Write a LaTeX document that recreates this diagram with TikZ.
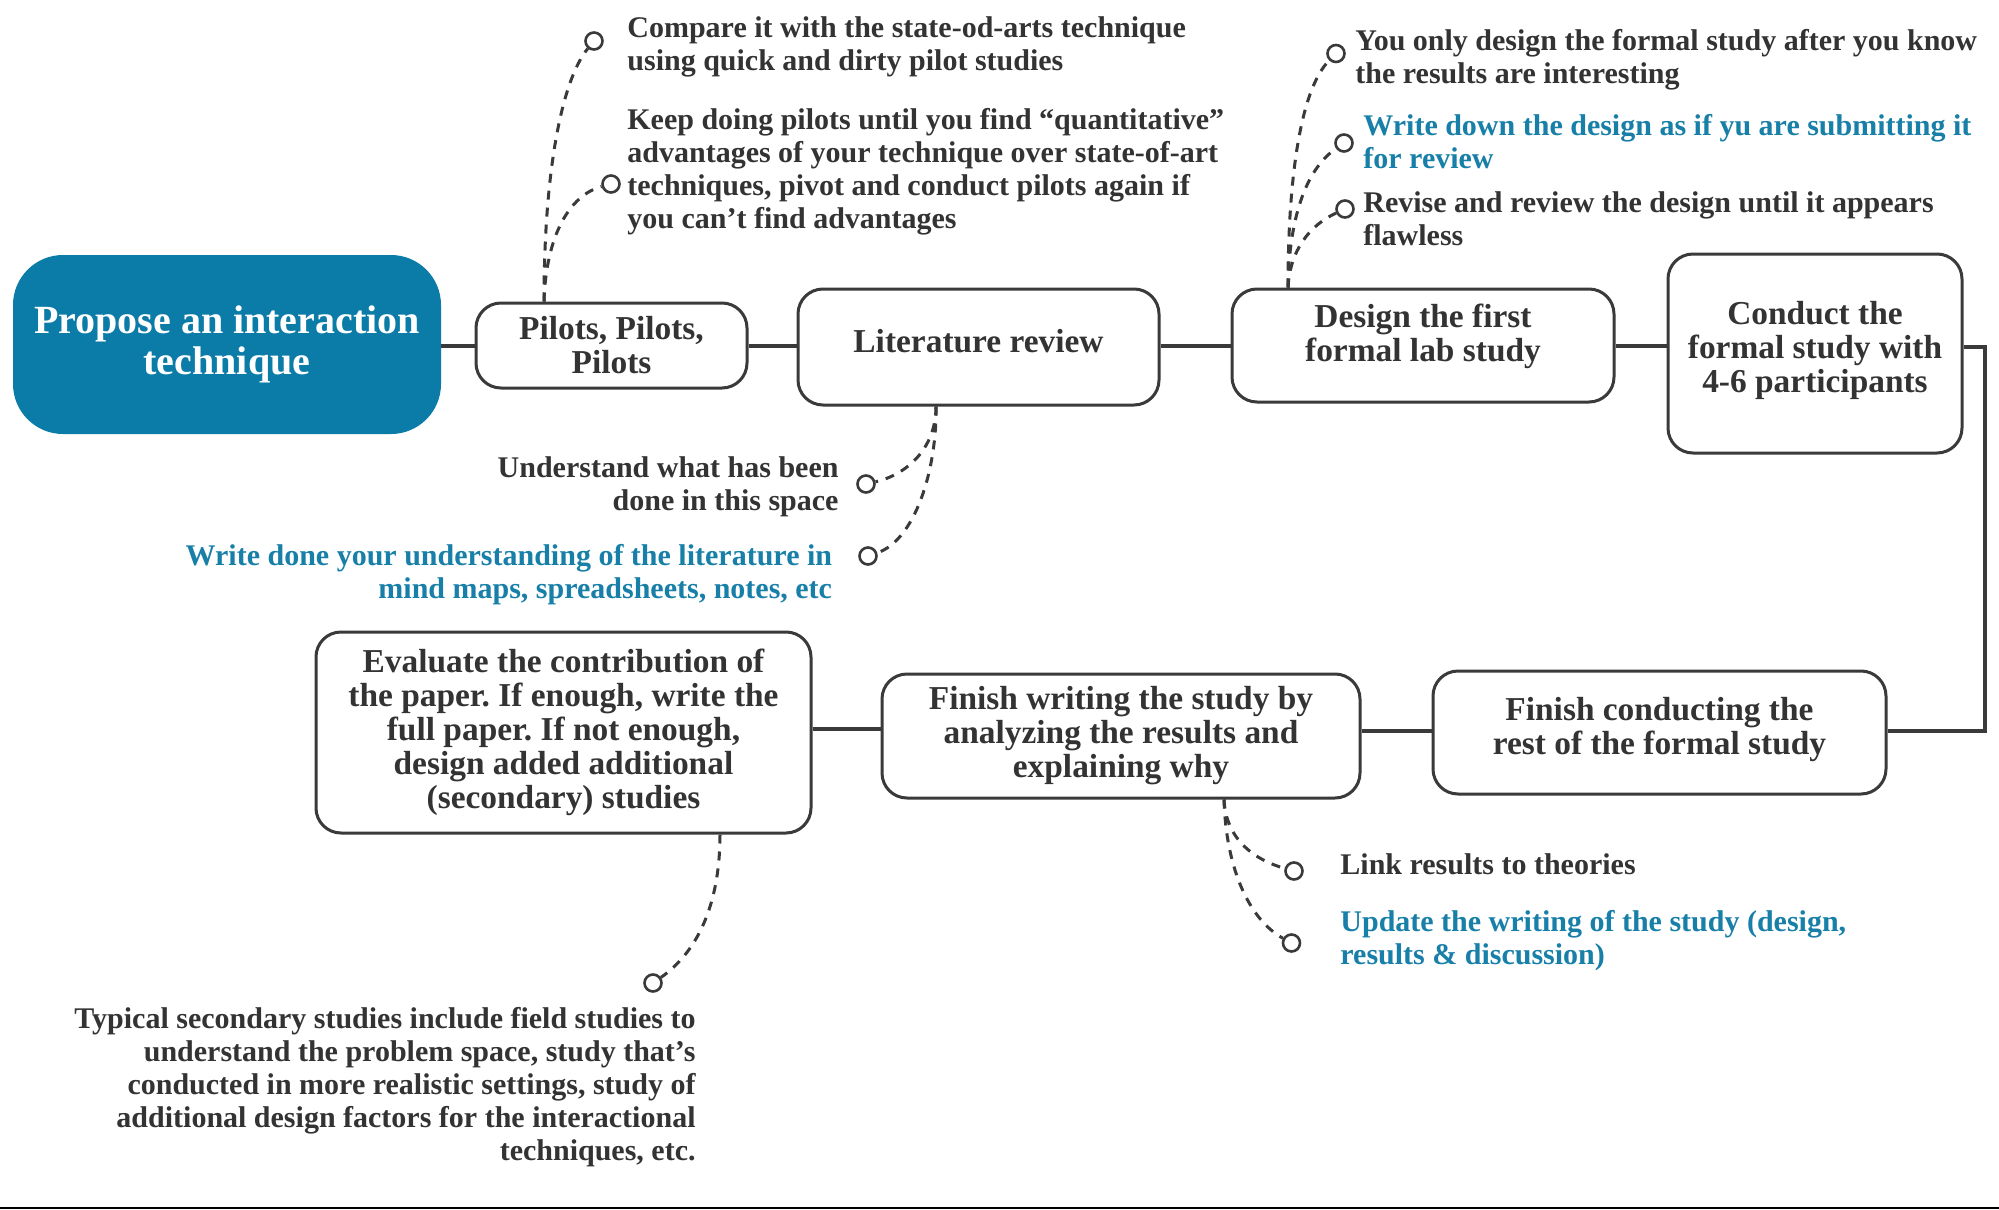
\documentclass[tikz,border=0pt]{standalone}
\usepackage{fontspec}
\setmainfont{Liberation Serif}
\usetikzlibrary{calc}
\frenchspacing
\definecolor{ink}{RGB}{51,51,51}
\definecolor{pblue}{RGB}{11,123,168}
\definecolor{nblue}{RGB}{24,128,168}
\definecolor{edgec}{RGB}{58,58,58}
\begin{document}
\begin{tikzpicture}[x=0.5pt,y=-0.5pt,
  box/.style={draw=edgec, line width=1.5pt, rounded corners=12.5pt, fill=white, align=center, text=ink, font=\fontsize{16.7}{17}\selectfont\bfseries\frenchspacing, inner sep=0pt},
  boxtext/.style={align=center, text=ink, font=\fontsize{16.7}{17}\selectfont\bfseries\frenchspacing, inner sep=0pt},
  note/.style={text=ink, font=\fontsize{15}{16.5}\selectfont\bfseries\frenchspacing, inner sep=0pt},
  bnote/.style={note, text=nblue},
  conn/.style={draw=edgec, line width=1.6pt},
  dashc/.style={draw=edgec, line width=1.5pt, dash pattern=on 4.5pt off 4pt},
  endcirc/.style={circle, draw=edgec, line width=1.3pt, minimum size=8.5pt, inner sep=0pt, fill=white}
]
\useasboundingbox (0,0) rectangle (1999,1210);
\fill[white] (0,0) rectangle (1999,1210);

% main boxes
\node[fill=pblue, rounded corners=25pt, minimum width=214pt, minimum height=89.5pt, align=center, text=white, font=\fontsize{20}{20.5}\selectfont\bfseries, inner sep=0pt] (propose) at (227,344.5) {Propose an interaction\\technique};
\node[box, minimum width=135.5pt, minimum height=42.5pt] (pilots) at (611.5,345.5) {Pilots, Pilots,\\Pilots};
\node[box, minimum width=180.5pt, minimum height=58pt] (lit) at (978.5,347) {};
\node[boxtext] (littext) at (978.5,341.5) {Literature review};
\node[box, minimum width=191pt, minimum height=56.5pt] (design) at (1423,345.5) {};
\node[boxtext] (designtext) at (1423,336.5) {Design the first\\formal lab study};
\node[box, minimum width=147pt, minimum height=99.5pt] (conduct) at (1815,353.5) {};
\node[boxtext] (conducttext) at (1815,350.5) {Conduct the\\formal study with\\4-6 participants};
\node[box, minimum width=226.5pt, minimum height=61.5pt] (fconduct) at (1659.5,732.5) {};
\node[boxtext] (fconducttext) at (1659.5,730) {Finish conducting the\\rest of the formal study};
\node[box, minimum width=239pt, minimum height=62pt] (fwriting) at (1121,736) {Finish writing the study by\\analyzing the results and\\explaining why};
\node[box, minimum width=247.5pt, minimum height=100.5pt] (evaluate) at (563.5,732.5) {Evaluate the contribution of\\the paper. If enough, write the\\full paper. If not enough,\\design added additional\\(secondary) studies};

% main connectors
\draw[conn] (propose.east |- 0,346) -- (pilots.west |- 0,346);
\draw[conn] (pilots.east |- 0,346) -- (lit.west |- 0,346);
\draw[conn] (lit.east |- 0,346) -- (design.west |- 0,346);
\draw[conn] (design.east |- 0,346) -- (conduct.west |- 0,346);
\draw[conn] (conduct.east |- 0,347) -- (1985,347) |- (fconduct.east |- 0,731);
\draw[conn] (fconduct.west |- 0,731) -- (fwriting.east |- 0,731);
\draw[conn] (fwriting.west |- 0,729) -- (evaluate.east |- 0,729);

% end circles
\node[endcirc] (c1) at (594,41) {};
\node[endcirc] (c2) at (611,184) {};
\node[endcirc] (c3) at (866,484) {};
\node[endcirc] (c4) at (868,556) {};
\node[endcirc] (c5) at (1336,53.5) {};
\node[endcirc] (c6) at (1344,143) {};
\node[endcirc] (c7) at (1345,209) {};
\node[endcirc] (c8) at (1294,871) {};
\node[endcirc] (c9) at (1291.5,943) {};
\node[endcirc] (c10) at (653,983) {};

% dashed connectors
\draw[dashc] (pilots.north -| 544,0) .. controls (544,170) and (562,80) .. (c1);
\draw[dashc] (pilots.north -| 544,0) .. controls (546,235) and (570,195) .. (c2);
\draw[dashc] (lit.south -| 936,0) .. controls (936,450) and (905,475) .. (c3);
\draw[dashc] (lit.south -| 936,0) .. controls (937,470) and (915,540) .. (c4);
\draw[dashc] (design.north -| 1288,0) .. controls (1288,180) and (1300,90) .. (c5);
\draw[dashc] (design.north -| 1288,0) .. controls (1289,220) and (1305,170) .. (c6);
\draw[dashc] (design.north -| 1288,0) .. controls (1290,250) and (1310,225) .. (c7);
\draw[dashc] (fwriting.south -| 1224,0) .. controls (1226,840) and (1255,860) .. (c8);
\draw[dashc] (fwriting.south -| 1224,0) .. controls (1226,870) and (1250,920) .. (c9);
\draw[dashc] (evaluate.south -| 720,0) .. controls (720,900) and (700,950) .. (c10);

% notes
\node[note, anchor=west, align=left] (n1) at (627,47) {Compare it with the state-od-arts technique\\using quick and dirty pilot studies};
\node[note, anchor=west, align=left] (n2) at (627,172) {Keep doing pilots until you find “quantitative”\\advantages of your technique over state-of-art\\techniques, pivot and conduct pilots again if\\you can’t find advantages};
\node[note, anchor=east, align=right] (n3) at (839,487) {Understand what has been\\done in this space};
\node[bnote, anchor=east, align=right] (n4) at (832.5,575) {Write done your understanding of the literature in\\mind maps, spreadsheets, notes, etc};
\node[note, anchor=west, align=left] (n5) at (1355,60) {You only design the formal study after you know\\the results are interesting};
\node[bnote, anchor=west, align=left] (n6) at (1363,141.5) {Write down the design as if yu are submitting it\\for review};
\node[note, anchor=west, align=left] (n7) at (1363,218.5) {Revise and review the design until it appears\\flawless};
\node[note, anchor=west, align=left] (n8) at (1340,864) {Link results to theories};
\node[bnote, anchor=west, align=left] (n9) at (1340,941) {Update the writing of the study (design,\\results \& discussion)};
\node[note, anchor=east, align=right] (n10) at (696,1087) {Typical secondary studies include field studies to\\understand the problem space, study that’s\\conducted in more realistic settings, study of\\additional design factors for the interactional\\techniques, etc.};

% bottom rule
\draw[black, line width=1pt] (0,1208) -- (1999,1208);
\end{tikzpicture}
\end{document}
